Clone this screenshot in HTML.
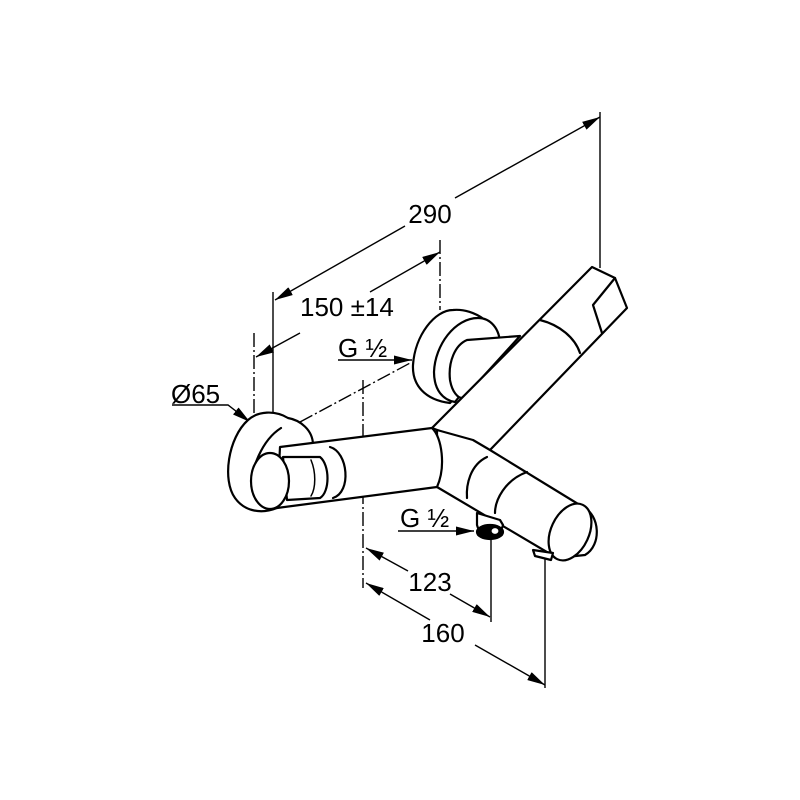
<!DOCTYPE html>
<html><head><meta charset="utf-8"><style>
html,body{margin:0;padding:0;background:#fff;}
svg{display:block}
text{font-family:"Liberation Sans",Arial,sans-serif;fill:#000}
</style></head><body>
<svg width="800" height="800" viewBox="0 0 800 800" xmlns="http://www.w3.org/2000/svg">
<defs>
<marker id="a" viewBox="0 0 18 9" refX="18" refY="4.5" markerWidth="18" markerHeight="9" markerUnits="userSpaceOnUse" orient="auto-start-reverse">
<path d="M0,0 L18,4.5 L0,9 z" fill="#000"/></marker>
</defs>
<g stroke="#000" fill="none" stroke-width="1.4">
<line x1="600" y1="112" x2="600" y2="268"/>
<line x1="440" y1="240" x2="440" y2="310" stroke-dasharray="14,3,2,3"/>
<line x1="273" y1="292" x2="273" y2="480"/>
<line x1="254" y1="333" x2="254" y2="422" stroke-dasharray="14,3,2,3"/>
<line x1="363" y1="380" x2="363" y2="588" stroke-dasharray="14,3,2,3"/>
<line x1="491" y1="538" x2="491" y2="622"/>
<line x1="545" y1="556" x2="545" y2="688"/>
<line x1="300" y1="422" x2="412" y2="362" stroke-dasharray="14,3,2,3"/>
<line x1="275" y1="300" x2="405" y2="226" marker-start="url(#a)"/>
<line x1="455" y1="198" x2="600" y2="117" marker-end="url(#a)"/>
<line x1="256" y1="357" x2="300" y2="333" marker-start="url(#a)"/>
<line x1="370" y1="292" x2="440" y2="252" marker-end="url(#a)"/>
<line x1="366" y1="548" x2="408" y2="571" marker-start="url(#a)"/>
<line x1="450" y1="594" x2="490" y2="617" marker-end="url(#a)"/>
<line x1="366" y1="583" x2="430" y2="620" marker-start="url(#a)"/>
<line x1="475" y1="645" x2="545" y2="685" marker-end="url(#a)"/>
<polyline points="172,405 228,405 250,422" marker-end="url(#a)"/>
<line x1="338" y1="360" x2="412" y2="360" marker-end="url(#a)"/>
<line x1="398" y1="531" x2="474" y2="531" marker-end="url(#a)"/>
</g>
<text x="430" y="223" font-size="26" text-anchor="middle">290</text>
<text x="300" y="316" font-size="26">150 ±14</text>
<text x="171" y="403" font-size="26">Ø65</text>
<text x="338" y="357" font-size="26">G ½</text>
<text x="400" y="527" font-size="26">G ½</text>
<text x="430" y="591" font-size="26" text-anchor="middle">123</text>
<text x="443" y="642" font-size="26" text-anchor="middle">160</text>
<g stroke="#000" stroke-width="2.2" fill="#fff" stroke-linejoin="round" stroke-linecap="round">
<!-- right flange -->
<path d="M453,310 C435,310 415,335 413,365 C412,385 425,400 450,403 L500,345 C498,325 475,308 453,310 z"/>
<path d="M478,318 C455,318 435,345 434,372 C434,390 443,400 455,402 L500,345 C500,328 490,318 478,318 z"/>
<path d="M467,340 C455,345 448,362 450,380 C452,392 458,398 462,398 L480,380 L520,336 z"/>
<!-- upper arm -->
<path d="M432,428 L592,267 L615,278 L627,308 L490,450 z"/>
<path d="M540,320 C560,325 575,338 580,353" fill="none"/>
<path d="M615,278 L593,305 L602,333" fill="none"/>
<!-- lower arm -->
<path d="M437,430 L473,440 L490,450 L583,507 L557,558 L437,487 z"/>
<path d="M487,457 C470,465 466,485 467,498" fill="none"/>
<path d="M527,472 C505,480 495,500 495,513" fill="none"/>
<path d="M583,507 C600,515 602,545 585,555 L557,558" />
<ellipse cx="570" cy="532" rx="19" ry="30" transform="rotate(25 570 532)"/>
<!-- spout -->
<path d="M477,513 L477,525 C480,538 500,538 503,525 L500,520 z"/>
<ellipse cx="490" cy="532" rx="13" ry="7" fill="#000"/>
<ellipse cx="495" cy="531" rx="4" ry="3.5" fill="#fff" stroke-width="1.2"/>
<path d="M533,550 L553,553 L551,560 L535,556 z"/>
<!-- left flange outer -->
<path d="M313,445 C313,430 300,420 288,418 C275,410 258,411 248,420 C228,438 222,480 235,498 C245,512 262,514 277,508 L300,500 z"/>
<!-- body tube -->
<path d="M280,447 L432,428 C442,437 446,467 437,487 L277,508 z"/>
<path d="M330,447 C348,452 352,492 333,498" fill="none"/>
<!-- inner ring -->
<path d="M281,428 C262,440 250,470 252,488 C254,502 262,508 270,507" fill="none"/>
<!-- handle block -->
<path d="M283,457 L320,457 C330,465 330,492 320,498 L287,500 z"/>
<path d="M311,460 C316,472 316,488 311,496" fill="none" stroke-width="1.5"/>
<!-- cap -->
<ellipse cx="270" cy="481" rx="19" ry="28"/>
</g>
</svg>
</body></html>
